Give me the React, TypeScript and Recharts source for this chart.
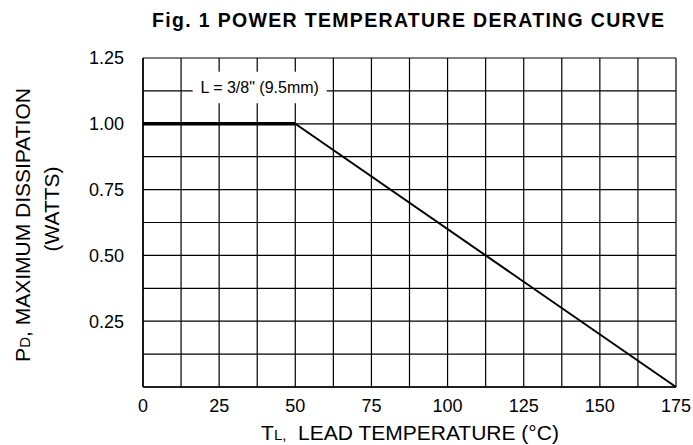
import React from 'react';
import { LineChart, Line, XAxis, YAxis, CartesianGrid, ReferenceArea, Customized } from 'recharts';

// grid every 12.5 °C / 0.125 W, labels every 25 °C / 0.25 W
const tempTicks = [0, 12.5, 25, 37.5, 50, 62.5, 75, 87.5, 100, 112.5, 125, 137.5, 150, 162.5, 175];
const powerTicks = [0, 0.125, 0.25, 0.375, 0.5, 0.625, 0.75, 0.875, 1, 1.125, 1.25];

// derating curve: flat part and linear part
const flatTemp = [0, 50];
const flatPower = [1, 1];
const slopeTemp = [50, 175];
const slopePower = [1, 0];

// label box "L = 3/8" (9.5mm)" in data units
const noteTemp = [16.3, 60.3];
const notePower = [1.078, 1.198];

const flatData = flatTemp.map((t, i) => ({ temp: t, power: flatPower[i] }));
const slopeData = slopeTemp.map((t, i) => ({ temp: t, power: slopePower[i] }));

const FONT = '"Liberation Sans", Arial, Helvetica, sans-serif';

const ChartText = () => (
  <g fontFamily={FONT} fill="#000">
    <text x={408} y={26.5} fontSize={19.5} fontWeight="bold" textAnchor="middle" textLength={512} lengthAdjust="spacing">
      Fig. 1  POWER TEMPERATURE DERATING CURVE
    </text>
    <text x={30} y={225} fontSize={21} textAnchor="middle" transform="rotate(-90 30 225)">
      P<tspan fontSize={15}>D</tspan>, MAXIMUM DISSIPATION
    </text>
    <text x={59} y={209} fontSize={21} textAnchor="middle" transform="rotate(-90 59 209)">
      (WATTS)
    </text>
    <text x={410} y={440} fontSize={21} textAnchor="middle" xmlSpace="preserve">
      T<tspan fontSize={15}>L,</tspan>  LEAD TEMPERATURE (°C)
    </text>
  </g>
);

const isMultiple = (v: number, step: number) => Math.abs(v / step - Math.round(v / step)) < 1e-9;

export default function App() {
  return (
    <div style={{ position: 'absolute', left: 0, top: 0, background: '#fff' }}>
      <LineChart width={693} height={445} margin={{ top: 58, right: 17, bottom: 0, left: 0 }}>
        <CartesianGrid stroke="#000" strokeWidth={1.2} />
        <XAxis
          dataKey="temp"
          type="number"
          domain={[0, 175]}
          ticks={tempTicks}
          interval={0}
          height={58}
          tickSize={0}
          tickMargin={12}
          tickLine={false}
          axisLine={{ stroke: '#000', strokeWidth: 1.5 }}
          tick={{ fill: '#000', fontSize: 18, fontFamily: FONT }}
          tickFormatter={(v: number) => (isMultiple(v, 25) ? String(v) : '')}
        />
        <YAxis
          type="number"
          domain={[0, 1.25]}
          ticks={powerTicks}
          interval={0}
          width={143}
          tickSize={0}
          tickMargin={19}
          tickLine={false}
          axisLine={{ stroke: '#000', strokeWidth: 1.5 }}
          tick={{ fill: '#000', fontSize: 18, fontFamily: FONT }}
          tickFormatter={(v: number) => (v > 0 && isMultiple(v, 0.25) ? v.toFixed(2) : '')}
        />
        <ReferenceArea
          x1={noteTemp[0]}
          x2={noteTemp[1]}
          y1={notePower[0]}
          y2={notePower[1]}
          fill="#fff"
          fillOpacity={1}
          stroke="none"
          label={{ value: 'L = 3/8" (9.5mm)', position: 'center', fontSize: 16, fill: '#000', fontFamily: FONT }}
        />
        <Line data={flatData} dataKey="power" stroke="#000" strokeWidth={3.5} dot={false} isAnimationActive={false} />
        <Line data={slopeData} dataKey="power" stroke="#000" strokeWidth={2} dot={false} isAnimationActive={false} />
        <Customized component={ChartText} />
      </LineChart>
    </div>
  );
}
